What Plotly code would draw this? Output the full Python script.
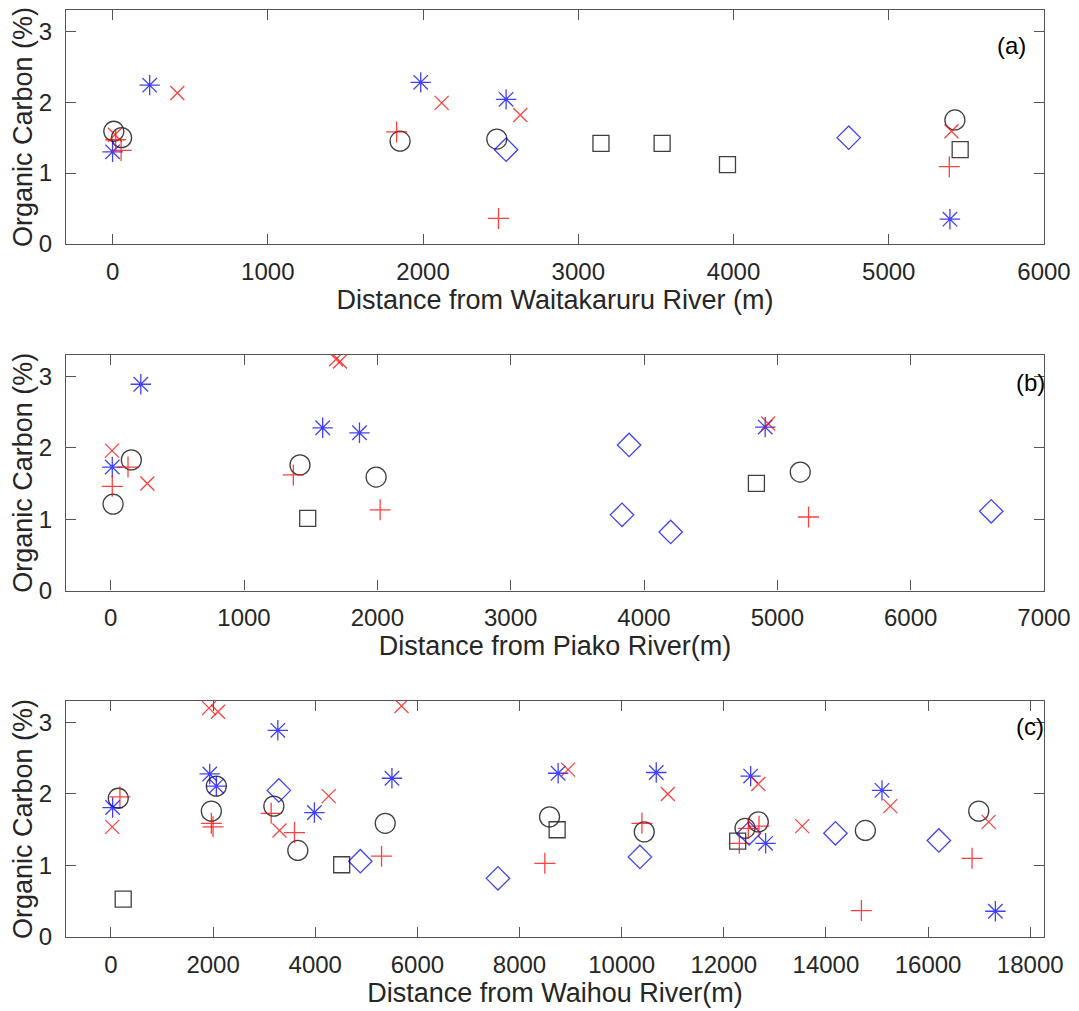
import plotly.graph_objects as go

# ---------------- data ----------------
# Panel (a): Distance from Waitakaruru River (m)
a_circle_x = [8, 58, 1852, 2475, 5426]
a_circle_y = [1.59, 1.50, 1.45, 1.48, 1.75]
a_square_x = [3146, 3540, 3961, 5460]
a_square_y = [1.42, 1.42, 1.12, 1.33]
a_diamond_x = [2535, 4742]
a_diamond_y = [1.33, 1.50]
a_star_x = [0, 239, 1985, 2535, 5394]
a_star_y = [1.30, 2.24, 2.28, 2.04, 0.35]
a_plus_x = [20, 55, 1830, 2486, 5390]
a_plus_y = [1.47, 1.32, 1.58, 0.36, 1.09]
a_cross_x = [15, 417, 2120, 2626, 5404]
a_cross_y = [1.54, 2.13, 1.99, 1.82, 1.59]

# Panel (b): Distance from Piako River (m)
b_circle_x = [18, 155, 1420, 1991, 5172]
b_circle_y = [1.21, 1.83, 1.76, 1.59, 1.66]
b_square_x = [1478, 4843]
b_square_y = [1.01, 1.50]
b_diamond_x = [3835, 3888, 4200, 6604]
b_diamond_y = [1.06, 2.04, 0.82, 1.11]
b_star_x = [12, 226, 1590, 1866, 4909]
b_star_y = [1.73, 2.89, 2.28, 2.21, 2.29]
b_plus_x = [12, 130, 1370, 2021, 5234]
b_plus_y = [1.46, 1.73, 1.62, 1.13, 1.03]
b_cross_x = [10, 275, 1690, 1720, 4931]
b_cross_y = [1.96, 1.50, 3.24, 3.21, 2.34]

# Panel (c): Distance from Waihou River (m)
c_circle_x = [143, 1966, 2064, 3190, 3659, 5371, 8588, 10443, 12416, 12676, 14772, 16992]
c_circle_y = [1.94, 1.76, 2.11, 1.83, 1.21, 1.59, 1.68, 1.47, 1.52, 1.61, 1.49, 1.76]
c_square_x = [240, 4518, 8737, 12272]
c_square_y = [0.53, 1.01, 1.50, 1.34]
c_diamond_x = [3288, 4883, 7578, 10358, 12494, 14186, 16211]
c_diamond_y = [2.05, 1.06, 0.82, 1.12, 1.45, 1.45, 1.35]
c_star_x = [33, 1934, 2064, 3268, 3984, 5502, 8756, 10678, 12526, 12819, 15098, 17318]
c_star_y = [1.81, 2.28, 2.11, 2.89, 1.74, 2.22, 2.29, 2.30, 2.25, 1.31, 2.05, 0.36]
c_plus_x = [176, 1966, 1999, 3138, 3594, 5299, 8496, 10397, 12305, 12480, 12690, 14694, 16861]
c_plus_y = [1.96, 1.59, 1.54, 1.73, 1.46, 1.13, 1.03, 1.59, 1.31, 1.52, 1.55, 0.37, 1.10]
c_cross_x = [25, 1920, 2096, 3300, 4264, 5690, 8951, 10904, 12676, 13535, 15260, 17187]
c_cross_y = [1.54, 3.20, 3.15, 1.49, 1.97, 3.23, 2.34, 2.00, 2.14, 1.55, 1.83, 1.61]

x_titles = ["Distance from Waitakaruru River (m)",
            "Distance from Piako River(m)",
            "Distance from Waihou River(m)"]
y_title = "Organic Carbon (%)"
panel_labels = ["(a)", "(b)", "(c)"]

# ---------------- styles ----------------
BLACK = "rgba(30,30,30,0.85)"
BLUE = "rgba(0,0,255,0.75)"
RED = "rgba(255,0,0,0.75)"
styles = {
    "circle": dict(symbol="circle-open", size=20, color=BLACK),
    "square": dict(symbol="square-open", size=16, color=BLACK),
    "diamond": dict(symbol="diamond-open", size=18, color=BLUE),
    "star": dict(symbol="asterisk-open", size=17, color=BLUE),
    "plus": dict(symbol="cross-thin-open", size=15, color=RED),
    "cross": dict(symbol="x-thin-open", size=14, color=RED),
}

panels = [
    {"circle": (a_circle_x, a_circle_y), "square": (a_square_x, a_square_y),
     "diamond": (a_diamond_x, a_diamond_y), "star": (a_star_x, a_star_y),
     "plus": (a_plus_x, a_plus_y), "cross": (a_cross_x, a_cross_y)},
    {"circle": (b_circle_x, b_circle_y), "square": (b_square_x, b_square_y),
     "diamond": (b_diamond_x, b_diamond_y), "star": (b_star_x, b_star_y),
     "plus": (b_plus_x, b_plus_y), "cross": (b_cross_x, b_cross_y)},
    {"circle": (c_circle_x, c_circle_y), "square": (c_square_x, c_square_y),
     "diamond": (c_diamond_x, c_diamond_y), "star": (c_star_x, c_star_y),
     "plus": (c_plus_x, c_plus_y), "cross": (c_cross_x, c_cross_y)},
]

fig = go.Figure()
axis_ids = ["", "2", "3"]
for i, pdata in enumerate(panels):
    for key in ["circle", "square", "diamond", "star", "plus", "cross"]:
        xs, ys = pdata[key]
        st = styles[key]
        fig.add_trace(go.Scatter(
            x=xs, y=ys, mode="markers", showlegend=False,
            xaxis="x" + axis_ids[i], yaxis="y" + axis_ids[i],
            marker=dict(symbol=st["symbol"], size=st["size"], color=st["color"],
                        line=dict(width=1.3, color=st["color"])),
        ))

FONT = "Liberation Sans, Arial, sans-serif"
TXT = "#262626"
# page has an 8px body margin; figure sized to fit the 1079x1011 window
W, H = 1071, 1003
OFF = 8
top_m, bot_m = 10 - OFF, H - (937 - OFF)
left_m, right_m = 66 - OFF, W - (1044 - OFF)
ph = H - top_m - bot_m
def dom(y0, y1):
    y0, y1 = y0 - OFF, y1 - OFF
    return [1 - (y1 - top_m) / ph, 1 - (y0 - top_m) / ph]

domains = [dom(10, 244), dom(355, 590.5), dom(701, 937)]
xranges = [[-300, 6000], [-335, 7000], [-880, 18270]]
xdticks = [1000, 1000, 2000]

common_axis = dict(showline=True, linecolor="#555555", linewidth=1.2, mirror="ticks",
                   ticks="inside", ticklen=10, tickcolor="#555555", tickwidth=1.2,
                   showgrid=False, zeroline=False, automargin=False,
                   tickformat="d",
                   tickfont=dict(family=FONT, size=24, color=TXT))

layout = dict(width=W, height=H, plot_bgcolor="white", paper_bgcolor="white",
              margin=dict(l=left_m, r=right_m, t=top_m, b=bot_m),
              font=dict(family=FONT, color=TXT))
for i in range(3):
    xa = "xaxis" + axis_ids[i]
    ya = "yaxis" + axis_ids[i]
    layout[xa] = dict(common_axis, range=xranges[i], dtick=xdticks[i], tick0=0,
                      anchor="y" + axis_ids[i], domain=[0, 1], ticklabelstandoff=6,
                      title=dict(text=x_titles[i], standoff=3,
                                 font=dict(family=FONT, size=27, color=TXT)))
    layout[ya] = dict(common_axis, range=[0, 3.3], dtick=1, tick0=0,
                      anchor="x" + axis_ids[i], domain=domains[i], ticklabelstandoff=8,
                      title=dict(text=y_title, standoff=0,
                                 font=dict(family=FONT, size=27, color=TXT)))
fig.update_layout(**layout)

label_pos = [(0.967, 0.85), (0.986, 0.885), (0.986, 0.89)]
for i, lab in enumerate(panel_labels):
    fig.add_annotation(text=lab, xref="x" + axis_ids[i] + " domain",
                       yref="y" + axis_ids[i] + " domain",
                       x=label_pos[i][0], y=label_pos[i][1], showarrow=False,
                       xanchor="center", yanchor="middle",
                       font=dict(family=FONT, size=24, color="black"))

fig.write_html("out.html")
